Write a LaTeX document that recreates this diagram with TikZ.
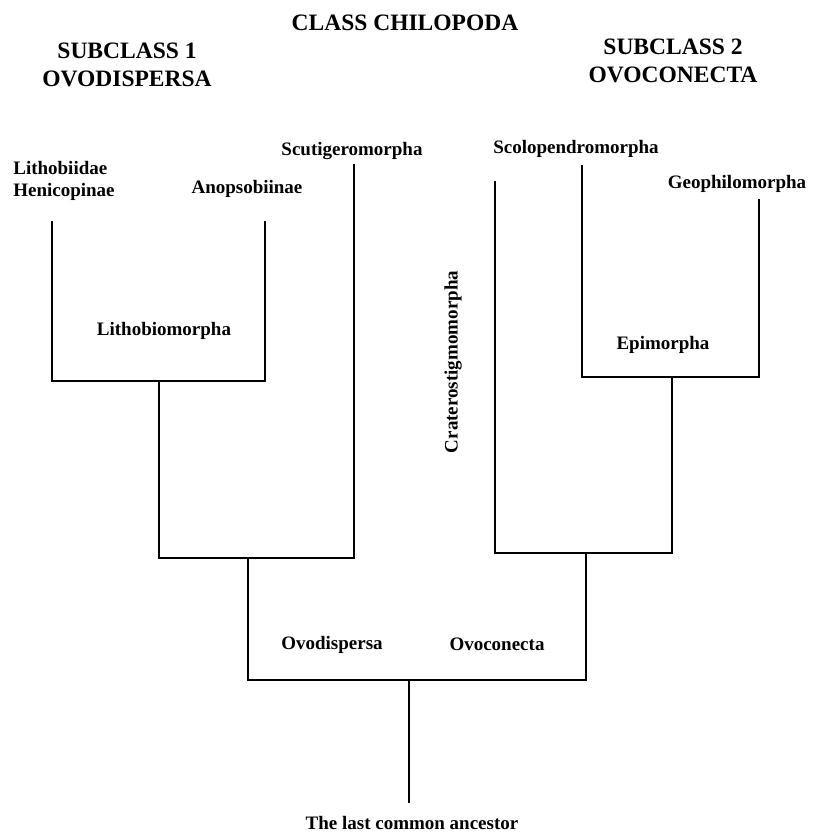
\documentclass[tikz,border=0pt]{standalone}
\usepackage{fontspec}
\setmainfont{Liberation Serif}
\begin{document}
\begin{tikzpicture}[x=1pt,y=-1pt,
  tree/.style={line width=2.8pt,line join=miter,line cap=rect},
  lbl/.style={font=\fontsize{19}{22}\selectfont\bfseries,inner sep=0pt},
  ttl/.style={font=\fontsize{23.5}{27.5}\selectfont\bfseries,inner sep=0pt,align=center}]
\useasboundingbox[fill=white] (0,0) rectangle (812,832);
% titles
\node[ttl] (cls) at (405,23) {CLASS CHILOPODA};
\node[ttl] (sc1) at (127,65) {SUBCLASS 1\\OVODISPERSA};
\node[ttl] (sc2) at (673,61) {SUBCLASS 2\\OVOCONECTA};
% labels
\node[lbl,align=left] (lith) at (64,181) {Lithobiidae\\Henicopinae};
\node[lbl] (anop) at (247,189) {Anopsobiinae};
\node[lbl] (scut) at (352,151) {Scutigeromorpha};
\node[lbl] (lbm) at (164,331) {Lithobiomorpha};
\node[lbl] (scol) at (576,149) {Scolopendromorpha};
\node[lbl] (geo) at (737,184) {Geophilomorpha};
\node[lbl,rotate=90] (crat) at (453,362) {Craterostigmomorpha};
\node[lbl] (epi) at (663,345) {Epimorpha};
\node[lbl] (ovd) at (332,645) {Ovodispersa};
\node[lbl] (ovc) at (497,644) {Ovoconecta};
\node[lbl] (anc) at (412,823) {The last common ancestor};
% tree coordinates
\coordinate (lithT) at (52,222);
\coordinate (anopT) at (265,222);
\coordinate (lithJ) at (159,381);
\coordinate (scutT) at (354,165);
\coordinate (ovdJ) at (248,558);
\coordinate (cratT) at (495,182);
\coordinate (scolT) at (582,166);
\coordinate (geoT) at (759,200);
\coordinate (epiJ) at (672,377);
\coordinate (ovcJ) at (586,553);
\coordinate (rootJ) at (409,680);
\coordinate (rootE) at (409,802);
% tree
\draw[tree] (lithT) |- (lithJ) -| (anopT);
\draw[tree] (lithJ) |- (ovdJ) -| (scutT);
\draw[tree] (ovdJ) |- (rootJ) -| (ovcJ);
\draw[tree] (cratT) |- (ovcJ) -| (epiJ);
\draw[tree] (scolT) |- (epiJ) -| (geoT);
\draw[tree] (rootJ) -- (rootE);
\end{tikzpicture}
\end{document}
